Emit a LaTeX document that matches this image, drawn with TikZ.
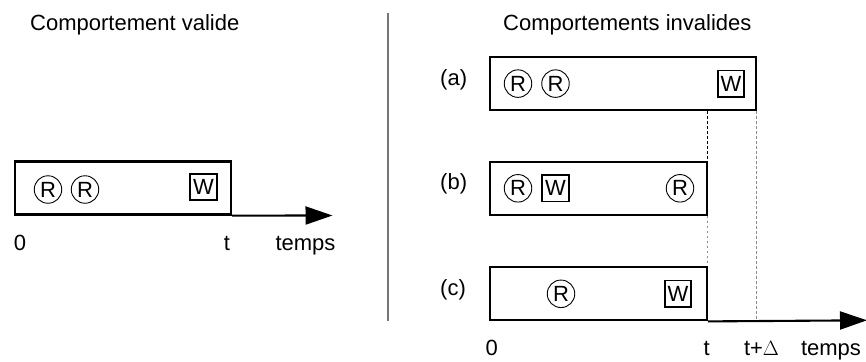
\documentclass[tikz,border=0pt]{standalone}
\usepackage{fontspec}
\setmainfont{Liberation Sans}
\usetikzlibrary{arrows.meta}
\definecolor{divgray}{HTML}{767676}
\definecolor{dashgray}{HTML}{8A8A8A}
\tikzset{
  lbl/.style={font=\fontsize{22}{26}\selectfont, inner sep=0pt, anchor=base},
  lblw/.style={lbl, anchor=base west},
  tbox/.style={draw, line width=2.2pt, minimum height=53pt, inner sep=0pt},
  rsym/.style={circle, draw, line width=0.9pt, minimum size=27.5pt, inner sep=0pt, font=\fontsize{22}{26}\selectfont},
  wsym/.style={draw, line width=1.6pt, minimum size=26.5pt, inner sep=0pt, font=\fontsize{22}{26}\selectfont},
  axis/.style={line width=2.1pt, -{Triangle[length=27pt, width=18pt]}},
  guideb/.style={draw=black, line width=0.9pt, dash pattern=on 3pt off 2pt},
  guideg/.style={draw=dashgray, line width=1.3pt, dash pattern=on 2.5pt off 2.5pt},
}
\begin{document}
\begin{tikzpicture}[x=1pt, y=-1pt]
\useasboundingbox (0,0) rectangle (866,361);

% titles
\node[lblw] (t1) at (30,31) {Comportement valide};
\node[lblw] (t2) at (503,31) {Comportements invalides};

% divider
\coordinate (d1) at (388,13);
\coordinate (d2) at (388,321);
\draw[divgray, line width=1.4pt] (d1) -- (d2);

% left: valid behaviour
\node[tbox, minimum width=216pt] (v) at (123,188) {};
\coordinate (vend) at (332.5,215.5);
\draw[axis] (v.south east) -- (vend);
\node[rsym] (vr1) at (48,189.5) {R};
\node[rsym] (vr2) at (85,189.5) {R};
\node[wsym] (vw) at (203.5,187) {W};
\node[lbl] (v0) at (20,250) {0};
\node[lbl] (vt) at (227,250) {t};
\node[lbl] (vtemps) at (305.5,250) {temps};

% right: invalid behaviours
\node[tbox, minimum width=265.7pt] (a) at (622.85,83.6) {};
\node[tbox, minimum width=216.7pt] (b) at (598.35,188.3) {};
\node[tbox, minimum width=216.7pt] (c) at (598.35,293.8) {};

\coordinate (aend) at (a.south east |- c.south);
\coordinate (bt) at (b.north east |- a.south);
\draw[guideg] (a.south east) -- (aend);
\draw[guideb] (bt) -- (b.north east);
\draw[guideg] (b.south east) -- (c.north east);
\node[tbox, minimum width=216.7pt] at (b) {};
\node[tbox, minimum width=216.7pt] at (c) {};

\coordinate (cend) at (867,320.3);
\draw[axis] (c.south east) -- (cend);

\node[lblw] (la) at (440,85) {(a)};
\node[lblw] (lb) at (440,189.5) {(b)};
\node[lblw] (lc) at (440,295) {(c)};

\node[rsym] (ar1) at (518,83.6) {R};
\node[rsym] (ar2) at (555.5,83.6) {R};
\node[wsym] (aw) at (731,83.6) {W};

\node[rsym] (br1) at (518,188.3) {R};
\node[wsym] (bw) at (555.5,188.3) {W};
\node[rsym] (br2) at (680,188.3) {R};

\node[rsym] (cr) at (561,293.8) {R};
\node[wsym] (cw) at (678,293.8) {W};

\node[lbl] (r0) at (491.7,355) {0};
\node[lbl] (rt) at (706.7,355) {t};
\node[lbl] (rtd) at (761.5,355) {t+$\Delta$};
\node[lbl] (rtemps) at (831,355) {temps};
\end{tikzpicture}
\end{document}
